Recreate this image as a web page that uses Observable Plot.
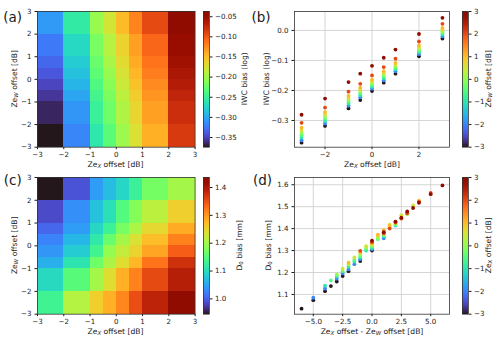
<!DOCTYPE html>
<html><head><meta charset="utf-8">
<script src="https://cdn.jsdelivr.net/npm/d3@7"></script>
<script src="https://cdn.jsdelivr.net/npm/@observablehq/plot@0.6"></script>
<style>
body{margin:0;background:#fff;}
#fig{position:relative;width:500px;height:342px;overflow:hidden;background:#fff;}
</style></head><body><div id="fig"></div>
<script>
// ---------- data ----------
const zexOffsets = [-3, -2, -1, -0.5, 0, 0.5, 1, 2, 3];
const zewOffsets = [-3, -2, -1, -0.5, 0, 0.5, 1, 2, 3];

// IWC bias (log); rows = Ze_X offset, columns = Ze_W offset
const iwcBias = [
  [-0.374, -0.366, -0.357, -0.349, -0.341, -0.333, -0.324, -0.308, -0.281],
  [-0.318, -0.310, -0.302, -0.294, -0.287, -0.280, -0.272, -0.257, -0.227],
  [-0.260, -0.251, -0.244, -0.238, -0.231, -0.225, -0.218, -0.204, -0.172],
  [-0.232, -0.223, -0.216, -0.210, -0.204, -0.197, -0.191, -0.178, -0.144],
  [-0.202, -0.194, -0.188, -0.182, -0.176, -0.170, -0.164, -0.150, -0.118],
  [-0.174, -0.166, -0.160, -0.154, -0.148, -0.142, -0.136, -0.122, -0.091],
  [-0.144, -0.136, -0.130, -0.125, -0.119, -0.114, -0.108, -0.094, -0.064],
  [-0.086, -0.079, -0.073, -0.067, -0.062, -0.056, -0.050, -0.037, -0.012],
  [-0.027, -0.020, -0.014, -0.008, -0.003, 0.003, 0.008, 0.022, 0.042]
];

// D0 bias [mm] scatter (panel d); rows = Ze_X offset, columns = Ze_W offset
const d0Bias = [
  [1.300, 1.252, 1.206, 1.184, 1.159, 1.138, 1.115, 1.074, 1.035],
  [1.356, 1.306, 1.260, 1.238, 1.214, 1.196, 1.172, 1.127, 1.085],
  [1.414, 1.365, 1.312, 1.300, 1.268, 1.250, 1.226, 1.182, 1.140],
  [1.447, 1.404, 1.352, 1.317, 1.308, 1.275, 1.258, 1.206, 1.164],
  [1.466, 1.420, 1.372, 1.358, 1.322, 1.314, 1.282, 1.236, 1.191],
  [1.506, 1.461, 1.418, 1.390, 1.366, 1.328, 1.320, 1.269, 1.217],
  [1.527, 1.474, 1.430, 1.412, 1.393, 1.372, 1.333, 1.292, 1.245],
  [1.563, 1.522, 1.470, 1.446, 1.428, 1.400, 1.378, 1.338, 1.299],
  [1.597, 1.557, 1.518, 1.494, 1.478, 1.450, 1.432, 1.384, 1.345]
];

// D0 bias [mm] heatmap cells (panel c); rows = Ze_X cell, columns = Ze_W cell (bottom to top)
const d0Cells = [
  [1.130, 1.095, 1.058, 1.038, 1.024, 1.004, 0.985, 0.945],
  [1.210, 1.150, 1.107, 1.082, 1.063, 1.043, 1.033, 0.990],
  [1.255, 1.200, 1.166, 1.132, 1.112, 1.092, 1.073, 1.043],
  [1.280, 1.240, 1.205, 1.190, 1.161, 1.127, 1.102, 1.068],
  [1.310, 1.280, 1.240, 1.220, 1.200, 1.171, 1.146, 1.092],
  [1.350, 1.313, 1.274, 1.250, 1.235, 1.205, 1.181, 1.125],
  [1.385, 1.353, 1.323, 1.289, 1.269, 1.245, 1.215, 1.170],
  [1.436, 1.390, 1.372, 1.338, 1.313, 1.284, 1.254, 1.200]
];

const offsetTicks = [-3, -2, -1, 0, 1, 2, 3];
const iwcTicksB = [-0.3, -0.2, -0.1, 0.0];
const iwcCbarTicks = [-0.35, -0.30, -0.25, -0.20, -0.15, -0.10, -0.05];
const d0CbarTicks = [1.0, 1.1, 1.2, 1.3, 1.4];
const xTicksB = [-2, 0, 2];
const xTicksD = [-5, -2.5, 0, 2.5, 5];
const yTicksD = [1.1, 1.2, 1.3, 1.4, 1.5, 1.6];

// ---------- layout ----------
const fig = document.getElementById("fig");
const FONT = "DejaVu Sans, sans-serif";
const FS_TICK = 7.1;
const FS_LABEL = 7.6;
const PAD = 30;
const geo = {
  a: {L: 36.7, R: 194.3, T: 11, B: 146.7},
  b: {L: 294.3, R: 449.3, T: 11, B: 146.7},
  c: {L: 36.7, R: 194.3, T: 177, B: 313.7},
  d: {L: 294.3, R: 449.3, T: 177, B: 313.7},
  cbA: {L: 203.3, R: 209.3, T: 11, B: 146.7},
  cbB: {L: 462, R: 468, T: 11, B: 146.7},
  cbC: {L: 203.3, R: 209.3, T: 177, B: 313.7},
  cbD: {L: 462, R: 468, T: 177, B: 313.7}
};
const baseStyle = {fontFamily: FONT, fontSize: FS_TICK + "px", color: "#1a1a1a", background: "transparent", overflow: "visible"};
const frame = () => Plot.frame({stroke: "#333", strokeWidth: 0.8});
const fmtInt = d3.format("d");

function place(el, g) {
  el.style.position = "absolute";
  el.style.left = (g.L - PAD) + "px";
  el.style.top = (g.T - PAD) + "px";
  fig.appendChild(el);
}

function panel(g, cfg) {
  const p = Plot.plot({
    width: g.R - g.L + 2 * PAD, height: g.B - g.T + 2 * PAD,
    marginLeft: PAD, marginRight: PAD, marginTop: PAD, marginBottom: PAD,
    style: baseStyle,
    x: {label: null, tickSize: 2.5, tickPadding: 2.5, ...cfg.x},
    y: {label: null, tickSize: 2.5, tickPadding: 3.5, ...cfg.y},
    color: {type: "linear", scheme: "turbo", ...cfg.color},
    marks: cfg.marks
  });
  place(p, g);
}

function colorbar(g, domain, ticks, fmt) {
  const n = 240, step = (domain[1] - domain[0]) / n;
  const slices = d3.range(n).map(i => domain[0] + i * step);
  const p = Plot.plot({
    width: g.R - g.L + 2 * PAD, height: g.B - g.T + 2 * PAD,
    marginLeft: PAD, marginRight: PAD, marginTop: PAD, marginBottom: PAD,
    style: baseStyle,
    x: {domain: [0, 1], axis: null},
    y: {domain, axis: "right", ticks, tickFormat: fmt, tickSize: 2.5, tickPadding: 3, label: null},
    color: {type: "linear", scheme: "turbo", domain},
    marks: [
      Plot.rect(slices, {x1: () => 0, x2: () => 1, y1: d => d, y2: d => Math.min(d + step * 1.8, domain[1]),
        fill: d => d + step / 2, shapeRendering: "crispEdges"}),
      frame()
    ]
  });
  place(p, g);
}

// ---------- panel (a) ----------
const cellsA = [];
for (let i = 0; i < 8; i++) for (let j = 0; j < 8; j++)
  cellsA.push({x1: zexOffsets[i], x2: zexOffsets[i + 1], y1: zewOffsets[j], y2: zewOffsets[j + 1], v: iwcBias[i][j]});
const domA = d3.extent(cellsA, d => d.v);
panel(geo.a, {
  x: {domain: [-3, 3], ticks: offsetTicks, tickFormat: fmtInt},
  y: {domain: [-3, 3], ticks: offsetTicks, tickFormat: fmtInt},
  color: {domain: domA},
  marks: [
    Plot.rect(cellsA, {x1: "x1", x2: "x2", y1: "y1", y2: "y2", fill: "v", shapeRendering: "crispEdges"}),
    frame()
  ]
});
colorbar(geo.cbA, domA, iwcCbarTicks, d3.format(".2f"));

// ---------- panel (b) ----------
const ptsB = [];
zexOffsets.forEach((zx, i) => zewOffsets.forEach((zw, j) => ptsB.push({x: zx, y: iwcBias[i][j], c: zw})));
panel(geo.b, {
  x: {domain: [-3.3, 3.3], ticks: xTicksB, tickFormat: fmtInt},
  y: {domain: [-0.389, 0.063], ticks: iwcTicksB, tickFormat: d3.format(".1f")},
  color: {domain: [-3, 3]},
  marks: [
    Plot.ruleX(xTicksB, {stroke: "#d0d0d0", strokeWidth: 0.9}),
    Plot.ruleY(iwcTicksB, {stroke: "#d0d0d0", strokeWidth: 0.9}),
    Plot.dot(ptsB, {x: "x", y: "y", fill: "c", r: 1.9}),
    frame()
  ]
});
colorbar(geo.cbB, [-3, 3], offsetTicks, fmtInt);

// ---------- panel (c) ----------
const cellsC = [];
for (let i = 0; i < 8; i++) for (let j = 0; j < 8; j++)
  cellsC.push({x1: zexOffsets[i], x2: zexOffsets[i + 1], y1: zewOffsets[j], y2: zewOffsets[j + 1], v: d0Cells[i][j]});
const domC = d3.extent(cellsC, d => d.v);
panel(geo.c, {
  x: {domain: [-3, 3], ticks: offsetTicks, tickFormat: fmtInt},
  y: {domain: [-3, 3], ticks: offsetTicks, tickFormat: fmtInt},
  color: {domain: domC},
  marks: [
    Plot.rect(cellsC, {x1: "x1", x2: "x2", y1: "y1", y2: "y2", fill: "v", shapeRendering: "crispEdges"}),
    frame()
  ]
});
colorbar(geo.cbC, domC, d0CbarTicks, d3.format(".1f"));

// ---------- panel (d) ----------
const ptsD = [];
zexOffsets.forEach((zx, i) => zewOffsets.forEach((zw, j) => ptsD.push({x: zx - zw, y: d0Bias[i][j], c: zx})));
panel(geo.d, {
  x: {domain: [-6.6, 6.6], ticks: xTicksD, tickFormat: d3.format(".1f")},
  y: {domain: [1.01, 1.633], ticks: yTicksD, tickFormat: d3.format(".1f")},
  color: {domain: [-3, 3]},
  marks: [
    Plot.ruleX(xTicksD, {stroke: "#d0d0d0", strokeWidth: 0.9}),
    Plot.ruleY(yTicksD, {stroke: "#d0d0d0", strokeWidth: 0.9}),
    Plot.dot(ptsD, {x: "x", y: "y", fill: "c", r: 1.9}),
    frame()
  ]
});
colorbar(geo.cbD, [-3, 3], offsetTicks, fmtInt);

// ---------- text overlay ----------
const svg = d3.select(fig).append("svg")
  .attr("width", 500).attr("height", 342)
  .style("position", "absolute").style("left", "0px").style("top", "0px")
  .style("font-family", FONT).style("pointer-events", "none");

function label(x, y, parts, rotate, size = FS_LABEL) {
  const t = svg.append("text")
    .attr("transform", `translate(${x},${y})` + (rotate ? " rotate(-90)" : ""))
    .attr("text-anchor", "middle").attr("dominant-baseline", "central")
    .attr("font-size", size).attr("fill", "#1a1a1a").style("white-space", "pre");
  parts.forEach(p => {
    if (p.sub) {
      t.append("tspan").attr("dy", size * 0.28).attr("font-size", size * 0.72)
        .attr("font-style", p.italic ? "italic" : null).text(p.t);
    } else {
      const s = t.append("tspan").text(p.t);
      if (p.after) s.attr("dy", -size * 0.28);
    }
  });
}
const ZeX = [{t: "Ze"}, {t: "X", sub: true, italic: true}];
const ZeW = [{t: "Ze"}, {t: "W", sub: true, italic: true}];
const D0 = [{t: "D"}, {t: "0", sub: true}];

label(115.5, 163.5, [...ZeX, {t: " offset [dB]", after: true}], false);
label(14, 78.8, [...ZeW, {t: " offset [dB]", after: true}], true);
label(243.5, 78.8, [{t: "IWC bias (log)"}], true);
label(265.5, 78.8, [{t: "IWC bias (log)"}], true);
label(372, 164, [...ZeX, {t: " offset [dB]", after: true}], false);
label(488, 78.8, [...ZeW, {t: " offset [dB]", after: true}], true);

label(115.5, 330.5, [...ZeX, {t: " offset [dB]", after: true}], false);
label(14, 245.3, [...ZeW, {t: " offset [dB]", after: true}], true);
label(239, 245.3, [...D0, {t: " bias [mm]", after: true}], true);
label(267.5, 245.3, [...D0, {t: " bias [mm]", after: true}], true);
label(372, 331, [...ZeX, {t: " offset - Ze", after: true}, {t: "W", sub: true, italic: true}, {t: " offset [dB]", after: true}], false);
label(488, 245.3, [...ZeX, {t: " offset [dB]", after: true}], true);

const panelLabels = [["(a)", 3.3, 22], ["(b)", 251.5, 22], ["(c)", 3.8, 185], ["(d)", 253, 185]];
panelLabels.forEach(([s, x, y]) => svg.append("text").attr("x", x).attr("y", y)
  .attr("font-size", 13.5).attr("fill", "#1a1a1a").text(s));
</script>
</body></html>
